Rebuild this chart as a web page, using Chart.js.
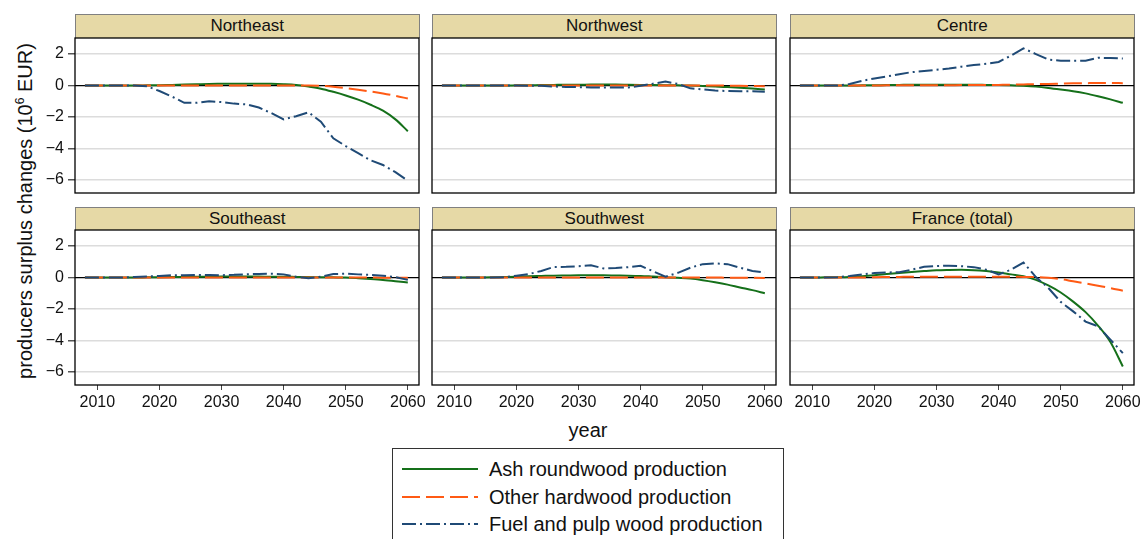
<!DOCTYPE html>
<html><head><meta charset="utf-8">
<script src="https://cdn.jsdelivr.net/npm/chart.js@4.4.1/dist/chart.umd.min.js"></script>
<style>
body{margin:0;background:#fff;width:1145px;height:539px;overflow:hidden;position:relative;font-family:"Liberation Sans",Arial,sans-serif;color:#111;}
.strip{position:absolute;background:#e6d9a6;border:1px solid #808080;border-bottom:none;box-sizing:border-box;text-align:center;font-size:17px;line-height:22px;color:#111;}
canvas{position:absolute;}
#ytitle{position:absolute;left:-175px;top:199px;width:400px;height:24px;line-height:24px;text-align:center;font-size:20px;transform:rotate(-90deg);white-space:nowrap;}
#ytitle sup{font-size:12px;vertical-align:8px;line-height:0;}
#xtitle{position:absolute;left:488px;top:418px;width:200px;text-align:center;font-size:20px;line-height:24px;}
#legend{position:absolute;left:392px;top:448px;width:392px;height:110px;border:1px solid #333;box-sizing:border-box;}
.li{position:absolute;left:8px;height:24px;font-size:20px;line-height:24px;white-space:nowrap;}
.li svg{position:absolute;left:0;top:7px;}
.li span{position:absolute;left:88px;top:0;}
</style>
</head>
<body>
<div id="ytitle">producers surplus changes (10<sup>6</sup> EUR)</div>
<div id="xtitle">year</div>
<div id="legend"></div>
<script>
// ---------- data ----------
const years = [2008,2010,2012,2014,2016,2018,2020,2022,2024,2026,2028,2030,2032,2034,2036,2038,2040,2042,2044,2046,2048,2050,2052,2054,2056,2058,2060];
const xTickValues = [2010,2020,2030,2040,2050,2060];
const yTickValues = [-6,-4,-2,0,2];
const seriesNames = ["Ash roundwood production","Other hardwood production","Fuel and pulp wood production"];
const regionNames = ["Northeast","Northwest","Centre","Southeast","Southwest","France (total)"];

const northeastAsh   = [0,0,0,0,0,0.01,0.02,0.04,0.06,0.08,0.1,0.11,0.12,0.12,0.12,0.11,0.08,0.03,-0.07,-0.2,-0.4,-0.63,-0.9,-1.22,-1.6,-2.15,-2.9];
const northeastOther = [0,0,0,0,0,0,0,0,0,0,0,0,0,0,0,0,0,0,0,-0.02,-0.08,-0.17,-0.27,-0.38,-0.5,-0.65,-0.83];
const northeastFuel  = [0,0,0,0,0,-0.05,-0.35,-0.7,-1.1,-1.1,-1.0,-1.05,-1.15,-1.2,-1.4,-1.75,-2.15,-1.95,-1.7,-2.3,-3.35,-3.85,-4.3,-4.75,-5.05,-5.5,-6.05];

const northwestAsh   = [0,0,0,0,0,0,0.01,0.02,0.03,0.04,0.05,0.05,0.06,0.06,0.06,0.05,0.04,0.03,0.02,0.01,0,-0.03,-0.06,-0.1,-0.14,-0.19,-0.25];
const northwestOther = [0,0,0,0,0,0,0,0,0,0,0,0,0,0,0,0,0,0,0,0,0,0,0,-0.01,-0.02,-0.03,-0.04];
const northwestFuel  = [0,0,0,0,0,0,0,-0.01,-0.02,-0.06,-0.09,-0.1,-0.12,-0.13,-0.13,-0.12,-0.02,0.12,0.25,0.1,-0.18,-0.25,-0.32,-0.35,-0.36,-0.36,-0.4];

const centreAsh   = [0,0,0,0,0,0.01,0.02,0.03,0.04,0.05,0.05,0.05,0.05,0.05,0.05,0.04,0.03,0.01,-0.02,-0.07,-0.15,-0.25,-0.36,-0.5,-0.68,-0.88,-1.1];
const centreOther = [0,0,0,0,0,0,0,0.01,0.01,0.02,0.02,0.02,0.02,0.03,0.03,0.03,0.04,0.05,0.07,0.09,0.1,0.12,0.14,0.15,0.16,0.16,0.15];
const centreFuel  = [0,0,0,0,0.1,0.3,0.45,0.58,0.72,0.85,0.92,1.0,1.08,1.2,1.3,1.38,1.5,1.9,2.36,2.0,1.65,1.58,1.58,1.58,1.76,1.75,1.72];

const southeastAsh   = [0,0,0,0,0,0.01,0.02,0.03,0.04,0.05,0.05,0.06,0.06,0.06,0.06,0.05,0.05,0.04,0.03,0.02,0.01,0,-0.04,-0.09,-0.15,-0.23,-0.32];
const southeastOther = [0,0,0,0,0,0,0,0,0,0,0,0,0,0,0,0,0,0,0,0,0,0,0,0,-0.01,-0.01,-0.02];
const southeastFuel  = [0,0,0,0,0.04,0.07,0.1,0.14,0.15,0.17,0.16,0.15,0.17,0.21,0.23,0.24,0.2,0.05,-0.05,0.05,0.22,0.25,0.2,0.17,0.12,0.02,-0.15];

const southwestAsh   = [0,0,0,0,0.01,0.03,0.05,0.08,0.1,0.12,0.13,0.14,0.14,0.14,0.13,0.12,0.1,0.06,0.02,-0.02,-0.07,-0.17,-0.3,-0.45,-0.63,-0.8,-1.0];
const southwestOther = [0,0,0,0,0,0,0,0,0,0,0,0,0,0,0,0,0,0,0,0,0,0,0,-0.01,-0.01,-0.02,-0.03];
const southwestFuel  = [0,0,0,0,0,0.02,0.12,0.22,0.42,0.67,0.68,0.72,0.78,0.58,0.6,0.66,0.74,0.4,0.05,0.3,0.62,0.85,0.9,0.85,0.62,0.42,0.32];

const franceAsh   = [0,0,0.01,0.02,0.04,0.08,0.15,0.22,0.28,0.35,0.41,0.46,0.48,0.49,0.47,0.41,0.32,0.2,0.08,-0.15,-0.5,-0.95,-1.53,-2.2,-3.05,-4.1,-5.65];
const franceOther = [0,0,0,0,0,0,0.02,0.03,0.04,0.05,0.05,0.05,0.05,0.05,0.05,0.05,0.05,0.05,0.04,0.03,-0.02,-0.1,-0.24,-0.37,-0.52,-0.67,-0.84];
const franceFuel  = [0,0,0,0.02,0.1,0.2,0.28,0.32,0.34,0.5,0.68,0.73,0.75,0.72,0.66,0.5,0.2,0.5,0.95,0.03,-0.66,-1.55,-2.15,-2.8,-3.1,-3.95,-4.8];

const panelSeries = [
  [northeastAsh, northeastOther, northeastFuel],
  [northwestAsh, northwestOther, northwestFuel],
  [centreAsh, centreOther, centreFuel],
  [southeastAsh, southeastOther, southeastFuel],
  [southwestAsh, southwestOther, southwestFuel],
  [franceAsh, franceOther, franceFuel]
];

// ---------- styles / layout ----------
const colors = ['#15701a','#ff5a14','#1f4a76'];
const dashes = [[], [18,6], [14,4,2,4]];
const smooth = [true, true, false];
const colLefts = [75, 432, 790];
const rowTops = [37.5, 230];
const plotW = 344, plotH = 155, yW = 75, xH = 30, pad = 2, extraRight = 14;
const FONT = '"Liberation Sans", Arial, sans-serif';

const framePlugin = {
  id: 'frame',
  afterDraw(chart) {
    const a = chart.chartArea, c = chart.ctx;
    c.save(); c.strokeStyle = '#000'; c.lineWidth = 1.3;
    c.strokeRect(a.left, a.top, a.right - a.left, a.bottom - a.top);
    c.restore();
  }
};

// legend
const legend = document.getElementById('legend');
seriesNames.forEach((n, i) => {
  const d = document.createElement('div');
  d.className = 'li';
  d.style.top = (8 + i * 27.5) + 'px';
  d.innerHTML = '<svg width="78" height="10"><line x1="1" y1="5" x2="77" y2="5" stroke="' + colors[i] +
    '" stroke-width="2.2" stroke-dasharray="' + (dashes[i].length ? dashes[i].join(',') : 'none') + '"/></svg><span>' + n + '</span>';
  legend.appendChild(d);
});

function zeroPad(sc) { sc.paddingTop = 0; sc.paddingBottom = 0; sc.paddingLeft = 0; sc.paddingRight = 0; }

regionNames.forEach((name, p) => {
  const col = p % 3, row = Math.floor(p / 3);
  const left = colLefts[col], top = rowTops[row];
  const isLeft = col === 0, isBottom = row === 1;
  // strip
  const s = document.createElement('div');
  s.className = 'strip';
  s.style.left = left + 'px'; s.style.top = (top - 23.5) + 'px';
  s.style.width = (plotW + 0.5) + 'px'; s.style.height = '23.5px';
  s.textContent = name;
  document.body.appendChild(s);

  const cv = document.createElement('canvas');
  const yw = isLeft ? yW : 0, xh = isBottom ? xH : 0, er = isBottom ? extraRight : 0;
  const cw = yw + plotW + 2 * pad + er, ch = plotH + xh + 2 * pad;
  cv.width = cw; cv.height = ch;
  cv.style.left = (left - yw - pad) + 'px';
  cv.style.top = (top - pad) + 'px';
  cv.style.width = cw + 'px'; cv.style.height = ch + 'px';
  document.body.appendChild(cv);

  const datasets = panelSeries[p].map((vals, k) => ({
    label: seriesNames[k],
    data: years.map((yr, i) => ({x: yr, y: vals[i]})),
    borderColor: colors[k],
    backgroundColor: colors[k],
    borderWidth: 2,
    borderDash: dashes[k],
    cubicInterpolationMode: smooth[k] ? 'monotone' : 'default',
    tension: 0,
    pointRadius: 0,
    fill: false,
    order: 3 - k
  }));

  new Chart(cv, {
    type: 'line',
    data: { datasets },
    plugins: [framePlugin],
    options: {
      responsive: false, animation: false, devicePixelRatio: 1,
      layout: { padding: { left: pad, top: pad, bottom: pad, right: pad + er } },
      plugins: { legend: { display: false }, tooltip: { enabled: false } },
      scales: {
        x: {
          type: 'linear', min: 2006.4, max: 2061.8,
          display: isBottom,
          border: { display: false },
          afterBuildTicks: (sc) => { sc.ticks = xTickValues.map(v => ({value: v})); },
          afterFit: (sc) => { sc.height = xh; zeroPad(sc); },
          grid: { drawOnChartArea: false, drawTicks: true, tickLength: 5, tickColor: '#444', lineWidth: 1 },
          ticks: { font: { family: FONT, size: 16 }, color: '#111', padding: 3, maxRotation: 0, autoSkip: false,
                   callback: (v) => String(v) }
        },
        y: {
          type: 'linear', min: -6.83, max: 3.02,
          border: { display: false },
          afterBuildTicks: (sc) => { sc.ticks = yTickValues.map(v => ({value: v})); },
          afterFit: (sc) => { sc.width = yw; zeroPad(sc); },
          grid: {
            drawTicks: true, tickLength: isLeft ? 7 : 0, tickColor: isLeft ? '#555' : 'rgba(0,0,0,0)',
            color: (c) => (c.tick && c.tick.value === 0) ? '#000' : '#dcdcdc',
            lineWidth: (c) => (c.tick && c.tick.value === 0) ? 1.3 : 1.5
          },
          ticks: { display: true, autoSkip: false, font: { family: FONT, size: 16 },
                   color: isLeft ? '#111' : 'rgba(0,0,0,0)', padding: 4,
                   callback: (v) => (v < 0 ? '\u2212' + Math.abs(v) : String(v)) }
        }
      }
    }
  });
});
</script>
</body></html>
